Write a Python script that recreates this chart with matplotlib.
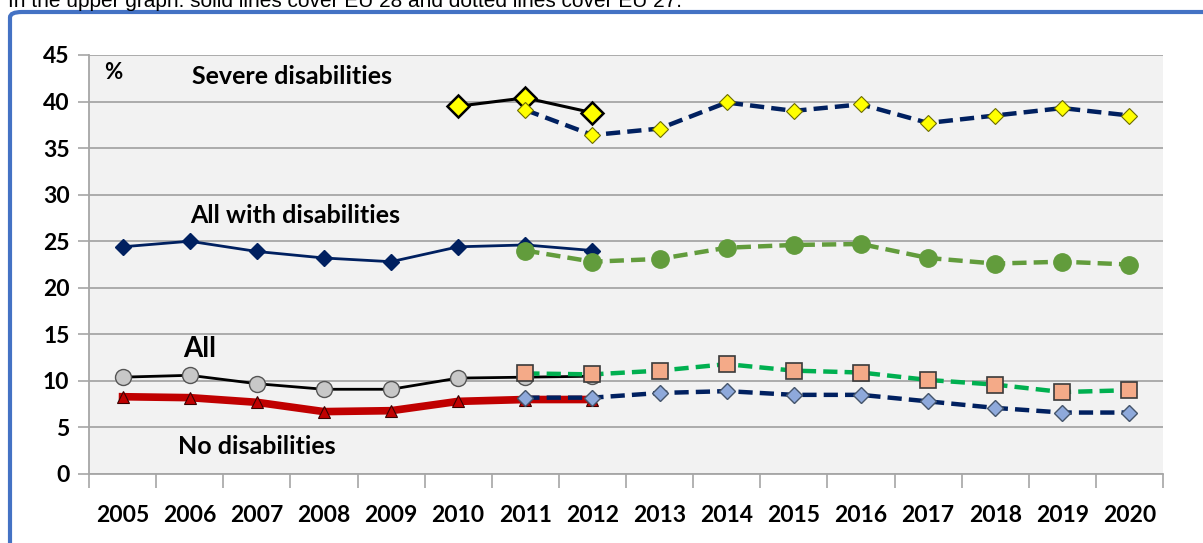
import matplotlib.pyplot as plt
from matplotlib.patches import FancyBboxPatch

years = [str(y) for y in range(2005, 2021)]
yticks = [0, 5, 10, 15, 20, 25, 30, 35, 40, 45]

# EU 28 (solid lines)
severe_eu28 = [39.5, 40.4, 38.8]                                  # 2010-2012
with_dis_eu28 = [24.4, 25.0, 23.9, 23.2, 22.8, 24.4, 24.6, 24.0]  # 2005-2012
all_eu28 = [10.4, 10.6, 9.7, 9.1, 9.1, 10.3, 10.4, 10.5]
no_dis_eu28 = [8.3, 8.2, 7.7, 6.7, 6.8, 7.8, 8.0, 8.0]

# EU 27 (dotted lines), 2011-2020
severe_eu27 = [39.1, 36.4, 37.1, 39.9, 39.0, 39.7, 37.7, 38.5, 39.3, 38.5]
with_dis_eu27 = [24.0, 22.8, 23.1, 24.3, 24.6, 24.7, 23.2, 22.6, 22.8, 22.5]
all_eu27 = [10.8, 10.7, 11.1, 11.8, 11.1, 10.9, 10.1, 9.6, 8.8, 9.0]
no_dis_eu27 = [8.2, 8.2, 8.7, 8.9, 8.5, 8.5, 7.8, 7.1, 6.6, 6.6]

plt.rcParams['font.family'] = ['Lato', 'DejaVu Sans']

fig = plt.figure(figsize=(12.03, 5.43), dpi=100)
ax = fig.add_axes([89 / 1203, 1 - 474 / 543, 1074 / 1203, 419 / 543])
ax.set_facecolor('#F2F2F2')

x_all = list(range(len(years)))
x_28 = x_all[:8]
x_sev28 = x_all[5:8]
x_27 = x_all[6:]

navy = '#002060'
dash = (3.2, 1.6)

ax.plot(x_28, no_dis_eu28, color='#C00000', lw=5.5, marker='^', ms=8,
        mfc='#C00000', mec='#3a0000', mew=0.8, zorder=3)
ax.plot(x_28, all_eu28, color='black', lw=2, marker='o', ms=11.5,
        mfc='#C8C8C8', mec='#555555', mew=1, zorder=3)
ax.plot(x_28, with_dis_eu28, color=navy, lw=2, marker='D', ms=8.5,
        mfc=navy, mec=navy, zorder=3)
ax.plot(x_sev28, severe_eu28, color='black', lw=2.2, marker='D', ms=11,
        mfc='#FFFF00', mec='black', mew=1.8, zorder=3)

ax.plot(x_27, no_dis_eu27, color=navy, lw=3.2, ls='--', dashes=dash,
        marker='D', ms=8.5, mfc='#8EA9DB', mec='#44546A', mew=1, zorder=4)
ax.plot(x_27, all_eu27, color='#00B050', lw=3.2, ls='--', dashes=dash,
        marker='s', ms=12, mfc='#F4AA88', mec='#3a3a3a', mew=1.2, zorder=4)
ax.plot(x_27, with_dis_eu27, color='#629C3C', lw=3.2, ls='--', dashes=dash,
        marker='o', ms=12.5, mfc='#629C3C', mec='#629C3C', zorder=4)
ax.plot(x_27, severe_eu27, color=navy, lw=3.2, ls='--', dashes=dash,
        marker='D', ms=8.5, mfc='#FFFF00', mec='#6b6b00', mew=0.8, zorder=4)

ax.set_xlim(-0.5, len(years) - 0.5)
ax.set_ylim(0, 45)
ax.set_yticks(yticks)
ax.set_yticklabels([str(v) for v in yticks], fontsize=16.5, fontweight='bold')
ax.set_xticks(x_all)
ax.set_xticklabels(years, fontsize=16.5, fontweight='bold')
ax.set_xticks([i - 0.5 for i in range(len(years) + 1)], minor=True)
ax.tick_params(axis='x', which='major', length=0, pad=22)
ax.tick_params(axis='x', which='minor', length=10, color='#A6A6A6', width=1.2)
ax.tick_params(axis='y', length=8, color='#A6A6A6', width=1.2, pad=6)
ax.grid(axis='y', color='#A6A6A6', lw=1.3, zorder=0)
ax.set_axisbelow(True)
for s in ['top', 'right']:
    ax.spines[s].set_visible(False)
for s in ['left', 'bottom']:
    ax.spines[s].set_color('#A6A6A6')
    ax.spines[s].set_linewidth(1.3)

ax.text(-0.27, 43.1, '%', fontsize=16, fontweight='bold', va='center')
ax.text(1.03, 42.7, 'Severe disabilities', fontsize=18, fontweight='bold', va='center')
ax.text(1.0, 27.8, 'All with disabilities', fontsize=18, fontweight='bold', va='center')
ax.text(0.9, 13.4, 'All', fontsize=20, fontweight='bold', va='center')
ax.text(0.82, 3.0, 'No disabilities', fontsize=18, fontweight='bold', va='center')

# caption cut off at the top edge and the blue frame
fig.text(8 / 1203, 1 - 7 / 543,
         'In the upper graph: solid lines cover EU 28 and dotted lines cover EU 27.',
         fontsize=15, family=['Liberation Sans'], va='baseline')
frame = FancyBboxPatch((10 / 1203, -0.2), 1.2, 1.2 - 12 / 543,
                       boxstyle='round,pad=0,rounding_size=0.01',
                       transform=fig.transFigure, fill=False,
                       ec='#4472C4', lw=3)
fig.patches.append(frame)

fig.savefig('out.png', dpi=100)
